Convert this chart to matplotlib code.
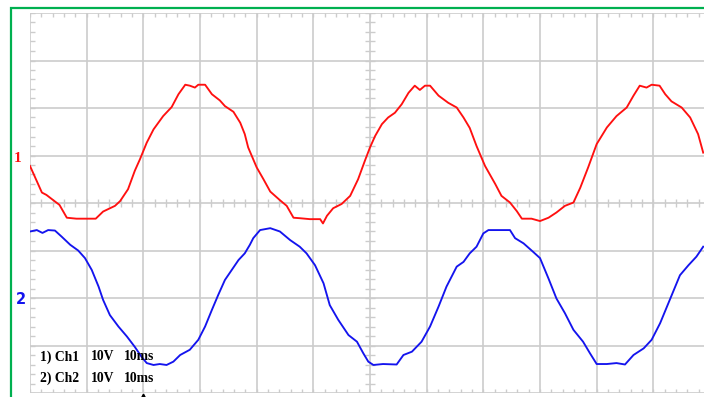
import matplotlib
matplotlib.use("Agg")
import matplotlib.pyplot as plt
from matplotlib.patches import Rectangle
import numpy as np

# scope capture: 10 ms/div, both channels 10 V/div
ch1_t = [0.0, 0.9, 2.1, 2.9, 4.1, 5.2, 6.5, 8.2, 10.0, 11.6, 12.9, 15.0, 15.9, 17.3,
         18.5, 19.4, 20.6, 21.8, 23.5, 25.0, 26.2, 27.4, 28.2, 29.1, 29.7, 30.9, 32.1,
         33.5, 34.4, 35.9, 37.1, 37.9, 38.5, 40.0, 41.2, 42.4, 44.1, 45.3, 46.5, 47.6,
         49.4, 51.2, 51.7, 52.4, 53.5, 55.0, 56.5, 57.9, 59.1, 60.0, 60.9, 62.1, 63.2,
         64.4, 65.6, 66.8, 67.9, 68.8, 69.7, 70.6, 72.1, 73.8, 75.3, 76.5, 77.6, 78.8,
         80.3, 82.1, 83.2, 84.7, 85.9, 86.8, 88.5, 90.0, 91.5, 92.9, 94.4, 95.9, 97.1,
         98.5, 100.0, 101.8, 103.5, 105.3, 106.5, 107.6, 108.8, 109.7, 111.1, 112.1,
         113.2, 115.0, 116.5, 117.9, 118.8]
ch1_v = [-1.7, -4.1, -7.3, -7.8, -8.9, -9.9, -12.6, -12.8, -12.8, -12.8, -11.3, -10.1,
         -9.1, -6.6, -2.7, -0.3, 3.2, 6.0, 8.8, 10.7, 13.4, 15.4, 15.2, 14.8, 15.4, 15.4,
         13.4, 12.1, 10.9, 9.7, 7.4, 5.0, 2.2, -2.0, -4.5, -7.1, -8.9, -10.1, -12.6,
         -12.7, -12.9, -12.9, -13.8, -12.2, -10.6, -9.7, -8.0, -4.5, -0.6, 2.2, 4.6, 7.1,
         8.5, 9.5, 11.3, 13.7, 15.2, 14.3, 15.2, 15.2, 13.1, 11.6, 10.6, 8.5, 6.3, 2.5,
         -1.7, -5.5, -8.0, -9.4, -11.2, -12.8, -12.8, -13.3, -12.6, -11.5, -10.1, -9.4,
         -6.3, -2.0, 2.9, 6.4, 8.8, 10.6, 13.1, 15.2, 14.8, 15.4, 15.2, 13.4, 11.9, 10.6,
         8.5, 5.0, 1.1]

ch2_t = [0.0, 1.2, 2.2, 3.2, 4.4, 5.6, 7.1, 8.5, 9.7, 10.9, 12.1, 12.9, 14.1, 15.6,
         17.1, 18.5, 19.7, 20.6, 21.8, 22.9, 24.1, 25.3, 26.5, 28.2, 29.7, 30.9, 32.1,
         33.2, 34.4, 35.6, 36.8, 37.9, 38.8, 39.4, 40.6, 42.4, 44.1, 45.9, 47.6, 48.8,
         50.3, 51.8, 52.9, 54.4, 56.2, 57.7, 58.8, 59.7, 60.6, 62.3, 64.7, 65.9, 67.4,
         69.1, 70.6, 72.1, 73.5, 75.3, 76.5, 77.6, 78.8, 80.0, 80.9, 82.6, 84.7, 85.6,
         87.1, 88.8, 90.0, 91.5, 92.9, 94.4, 95.9, 97.6, 98.8, 100.0, 101.8, 103.5,
         105.0, 106.5, 108.3, 109.7, 111.2, 113.0, 114.7, 116.2, 117.6, 118.8]
ch2_v = [14.0, 14.3, 13.7, 14.3, 14.2, 12.9, 11.2, 10.0, 8.4, 5.9, 2.4, -0.4, -3.6,
         -6.0, -8.1, -10.3, -12.4, -13.7, -14.1, -13.9, -14.1, -13.4, -12.0, -10.9, -8.8,
         -6.0, -2.5, 0.6, 3.8, 5.9, 8.0, 9.4, 11.2, 12.6, 14.3, 14.7, 14.0, 12.2, 10.8,
         9.4, 6.9, 3.1, -1.5, -4.6, -7.8, -9.2, -11.6, -13.4, -14.1, -13.9, -14.0, -12.0,
         -11.3, -9.2, -6.0, -1.8, 2.4, 6.6, 7.6, 9.4, 10.8, 13.6, 14.3, 14.3, 14.3, 12.6,
         11.5, 9.7, 8.4, 4.1, -0.1, -3.2, -6.7, -9.2, -11.6, -13.9, -13.9, -13.7, -14.0,
         -12.0, -10.6, -8.8, -5.3, -0.1, 4.8, 6.9, 8.7, 10.8]

VOLTS_PER_DIV = 10.0
CH1_OFFSET = 0.95   # ground marker, divisions above centre
CH2_OFFSET = -2.0
TRIGGER_T = 20.0

GRID = "#cccccc"
W, H = 704, 397

fig = plt.figure(figsize=(W / 100, H / 100), dpi=100)
fig.patch.set_facecolor("white")
# graticule runs off the right edge of the capture
ax = fig.add_axes([30 / W, 4 / H, 680 / W, 380 / H])
ax.set_xlim(0, 120)
ax.set_ylim(-4, 4)
ax.axis("off")

for x in range(0, 121, 10):
    ax.axvline(x, color=GRID, lw=1.2, zorder=0)
for y in range(-4, 5):
    ax.axhline(y, color=GRID, lw=1.2, zorder=0)

# minor ticks, 5 per division
tx = np.arange(0, 121, 2)
ty = np.linspace(-4, 4, 41)
dy, dx = 0.09, 0.8
ax.vlines(tx, 4 - dy, 4, color=GRID, lw=1.0, zorder=0)
ax.vlines(tx, -4, -4 + dy, color=GRID, lw=1.0, zorder=0)
ax.vlines(tx, -dy, dy, color=GRID, lw=1.0, zorder=0)
ax.hlines(ty, 0, dx, color=GRID, lw=1.0, zorder=0)
ax.hlines(ty, 60 - dx, 60 + dx, color=GRID, lw=1.0, zorder=0)

ax.plot(ch1_t, CH1_OFFSET + np.array(ch1_v) / VOLTS_PER_DIV, color="#ff1010", lw=1.35)
ax.plot(ch2_t, CH2_OFFSET + np.array(ch2_v) / VOLTS_PER_DIV, color="#1414ee", lw=1.35)

# trigger position marker
ax.plot([TRIGGER_T], [-4.06], marker="^", ms=3.5, color="black", clip_on=False)

# green outer frame
fig.patches.append(Rectangle((11 / W, -0.2), 1.2, (H - 8) / H + 0.2,
                             transform=fig.transFigure, fill=False,
                             edgecolor="#00b050", lw=1.6))

serif = ["Liberation Serif", "DejaVu Serif"]
fig.text(18 / W, 1 - 158 / H, "1", color="#ff1010", fontsize=11, fontweight="bold",
         family=serif, ha="center", va="center")
fig.text(21 / W, 1 - 300 / H, "2", color="#1414ee", fontsize=10.5, fontweight="bold",
         family=["DejaVu Sans"], ha="center", va="center")

rows = [("1) Ch1", "10V", "10ms"), ("2) Ch2", "10V", "10ms")]
for i, row in enumerate(rows):
    ypix = 357 + 21 * i
    for xpix, s in zip([40, 91, 124], row):
        fig.text(xpix / W, 1 - ypix / H, s, fontsize=9.8, fontweight="bold",
                 family=serif, ha="left", va="center", color="black")

fig.savefig("out.png", dpi=100, facecolor="white")
